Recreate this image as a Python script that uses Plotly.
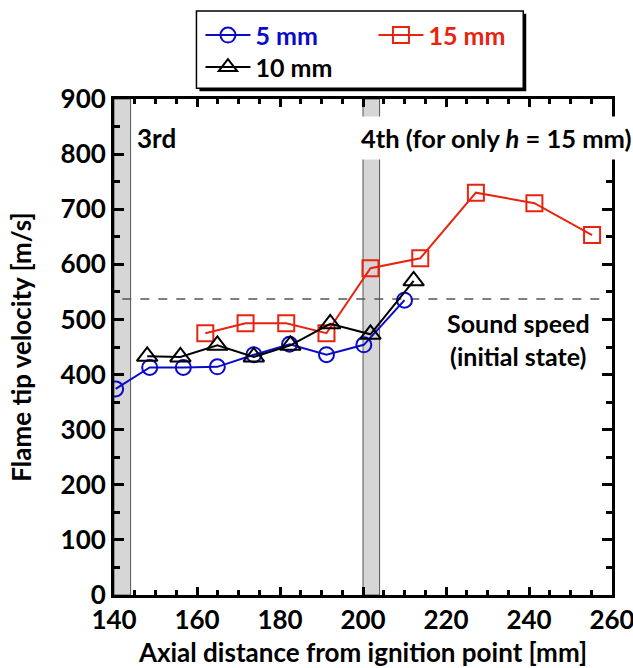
import plotly.graph_objects as go

# ---- data ----
x_5 = [140.4, 148.6, 156.7, 164.9, 173.7, 182.3, 191.2, 200.2, 210.0]
v_5 = [374, 413, 413, 414, 436, 455, 436, 454, 535]

x_10 = [148.0, 156.0, 164.9, 173.7, 182.5, 192.1, 201.8, 212.2]
v_10 = [433, 432, 453, 432, 453, 492, 473, 570]

x_15 = [162.0, 171.7, 181.5, 191.2, 201.8, 213.8, 227.2, 241.3, 255.2]
v_15 = [475, 493, 493, 475, 593, 611, 730, 711, 653]

bands = [(140, 144), (200, 204)]
sound_speed = 537
sound_x = [142, 258]

BLUE = "#0A0ACC"
RED = "#E8230F"
BLACK = "#000000"
FONT = "Lato"
FS = 26

fig = go.Figure()

fig.add_trace(go.Scatter(
    x=x_5, y=v_5, mode="lines+markers",
    name=f"<span style='color:{BLUE}'>5 mm</span>", legend="legend", legendrank=1,
    line=dict(color=BLUE, width=2),
    marker=dict(symbol="circle-open", size=15, line=dict(width=2, color=BLUE), color=BLUE),
))
fig.add_trace(go.Scatter(
    x=x_15, y=v_15, mode="lines+markers",
    name=f"<span style='color:{RED}'>15 mm</span>", legend="legend", legendrank=2,
    line=dict(color=RED, width=2),
    marker=dict(symbol="square-open", size=16, line=dict(width=2, color=RED), color=RED),
))
fig.add_trace(go.Scatter(
    x=x_10, y=v_10, mode="lines+markers",
    name="10 mm", legend="legend2",
    line=dict(color=BLACK, width=2),
    marker=dict(symbol="triangle-up-open", size=18, line=dict(width=2, color=BLACK), color=BLACK),
))
# invisible helper trace for mirrored minor ticks on top/right
fig.add_trace(go.Scatter(x=[140], y=[0], xaxis="x2", yaxis="y2", mode="markers",
                         marker=dict(opacity=0), showlegend=False, hoverinfo="skip"))

W, H = 498.3, 496.3
L, B = 113.5, 595.0
def px(xp):
    return (xp - L) / W
def py(yp):
    return (B - yp) / H

shapes = []
for a, b in bands:
    shapes.append(dict(type="rect", xref="x", yref="paper", x0=a, x1=b, y0=0, y1=1,
                       fillcolor="#d6d6d6", line=dict(color="#555555", width=1), layer="below"))
shapes.append(dict(type="line", xref="x", yref="y", x0=sound_x[0], x1=sound_x[1],
                   y0=sound_speed, y1=sound_speed,
                   line=dict(color="#555555", width=1.5, dash="dash"), layer="below"))
# legend box (shadow + frame)
shapes.append(dict(type="rect", xref="paper", yref="paper",
                   x0=px(199), x1=px(526), y0=py(91), y1=py(13.5),
                   fillcolor="black", line=dict(width=0)))
shapes.append(dict(type="rect", xref="paper", yref="paper",
                   x0=px(196), x1=px(523), y0=py(88), y1=py(10.7),
                   fillcolor="white", line=dict(color="black", width=1.5)))

annotations = [
    dict(text="<b>3rd</b>", xref="paper", yref="paper", x=px(135), y=py(138),
         xanchor="left", yanchor="middle", showarrow=False,
         font=dict(size=FS, color="black", family=FONT)),
    dict(text="<b>4th (for only <i>h</i> = 15 mm)</b>", xref="paper", yref="paper",
         x=px(354), y=py(138), xanchor="left", yanchor="middle", showarrow=False,
         bgcolor="white", borderpad=6,
         font=dict(size=FS - 0.5, color="black", family=FONT)),
    dict(text="<b>Sound speed<br>(initial state)</b>", xref="paper", yref="paper",
         x=px(592), y=py(339), xanchor="right", yanchor="middle", showarrow=False,
         align="center", font=dict(size=FS - 1, color="black", family=FONT)),
]

axis_common = dict(
    showline=True, linecolor="black", linewidth=3,
    ticks="inside", tickcolor="black", tickwidth=2.5,
    showgrid=False, zeroline=False, automargin=False,
    ticklabeloverflow="allow",
    tickfont=dict(size=FS, color="black", family=FONT),
)

legend_common = dict(orientation="h", xanchor="left", yanchor="middle",
                     bgcolor="rgba(0,0,0,0)", borderwidth=0,
                     entrywidth=113, entrywidthmode="pixels", itemwidth=45,
                     font=dict(size=FS - 1, family=FONT, weight="bold"))

fig.update_layout(
    width=633, height=668,
    margin=dict(l=L, r=633 - L - W, t=B - H, b=668 - B, autoexpand=False),
    paper_bgcolor="white", plot_bgcolor="white",
    font=dict(family=FONT, color="black", size=FS),
    shapes=shapes, annotations=annotations,
    showlegend=True,
    legend=dict(x=px(200), y=py(35), **legend_common),
    legend2=dict(x=px(200), y=py(67), **legend_common),
    xaxis=dict(range=[140, 260], dtick=20, tick0=140, ticklen=8,
               minor=dict(dtick=5, ticks="inside", ticklen=5, tickwidth=2.5, tickcolor="black"),
               title=dict(text="<b>Axial distance from ignition point [mm]</b>", standoff=12,
                          font=dict(size=FS, family=FONT)),
               tickprefix="<b>", ticksuffix="</b>",
               **axis_common),
    yaxis=dict(range=[0, 900], dtick=100, tick0=0, ticklen=10,
               minor=dict(dtick=50, ticks="inside", ticklen=6, tickwidth=2.5, tickcolor="black"),
               title=dict(text="<b>Flame tip velocity [m/s]</b>", standoff=22,
                          font=dict(size=FS, family=FONT)),
               tickprefix="<b>", ticksuffix="</b>",
               **axis_common),
    xaxis2=dict(range=[140, 260], dtick=20, tick0=140, ticklen=8, overlaying="x", side="top",
                anchor="y", showticklabels=False,
                minor=dict(dtick=5, ticks="inside", ticklen=5, tickwidth=2.5, tickcolor="black"),
                **axis_common),
    yaxis2=dict(range=[0, 900], dtick=100, tick0=0, ticklen=10, overlaying="y", side="right",
                anchor="x", showticklabels=False,
                minor=dict(dtick=50, ticks="inside", ticklen=6, tickwidth=2.5, tickcolor="black"),
                **axis_common),
)

fig.write_html("out.html", config={"displayModeBar": False},
               post_script="document.body.style.margin='0';")
